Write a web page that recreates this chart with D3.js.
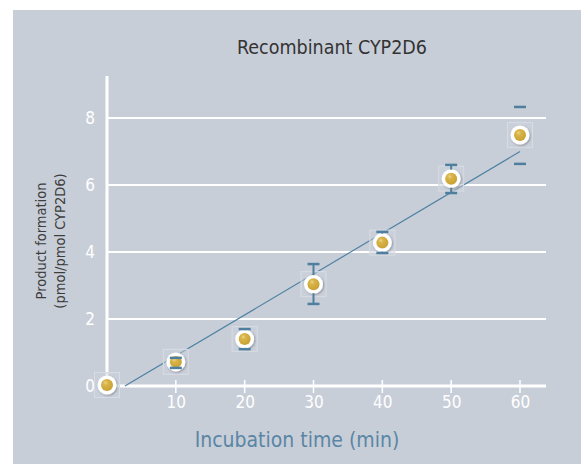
<!DOCTYPE html>
<html><head><meta charset="utf-8">
<script src="https://cdn.jsdelivr.net/npm/d3@7"></script>
<style>
html,body{margin:0;padding:0;background:#fff;}
svg{display:block;}
text{font-family:"DejaVu Sans Condensed","Liberation Sans Narrow","Roboto",sans-serif;}
</style></head>
<body>
<svg id="chart" width="581" height="464"></svg>
<script>
const title = "Recombinant CYP2D6";
const xLabel = "Incubation time (min)";
const yLabelLines = ["Product formation", "(pmol/pmol CYP2D6)"];
const times = [0, 10, 20, 30, 40, 50, 60];
const values = [0.03, 0.72, 1.40, 3.04, 4.28, 6.19, 7.49];
const errHigh = [null, 0.84, 1.70, 3.64, 4.60, 6.60, 8.33];
const errLow = [null, 0.54, 1.10, 2.45, 3.97, 5.76, 6.63];
const stemShown = [false, true, true, true, true, true, false];
const fitX = [2.6, 60];
const fitY = [0, 7.0];
const xTicks = [10, 20, 30, 40, 50, 60];
const yTicks = [0, 2, 4, 6, 8];

const svg = d3.select("#chart");
svg.append("rect").attr("x", 13).attr("y", 10).attr("width", 568).attr("height", 454).attr("fill", "#c8ced8");

const x = d3.scaleLinear().domain([0, 60]).range([107, 520]);
const y = d3.scaleLinear().domain([0, 8]).range([386, 118]);
const xEnd = 546;

const defs = svg.append("defs");
const grad = defs.append("radialGradient").attr("id", "gold").attr("cx", "0.38").attr("cy", "0.32").attr("r", "0.7");
grad.append("stop").attr("offset", "0").attr("stop-color", "#ead486");
grad.append("stop").attr("offset", "0.3").attr("stop-color", "#d8b448");
grad.append("stop").attr("offset", "1").attr("stop-color", "#c9a032");
const filt = defs.append("filter").attr("id", "sh").attr("x", "-50%").attr("y", "-50%").attr("width", "200%").attr("height", "200%");
filt.append("feDropShadow").attr("dx", 1).attr("dy", 1).attr("stdDeviation", 1.2).attr("flood-color", "#000").attr("flood-opacity", 0.3);

// title
svg.append("text").attr("x", 332).attr("y", 54).attr("text-anchor", "middle")
  .attr("font-size", 19.5).attr("fill", "#333").text(title);

// gridlines
svg.append("g").selectAll("line").data(yTicks.filter(d => d > 0)).join("line")
  .attr("x1", x(0)).attr("x2", xEnd).attr("y1", d => y(d)).attr("y2", d => y(d))
  .attr("stroke", "#fff").attr("stroke-width", 2);

// y axis
const yAxis = d3.axisLeft(y).tickValues(yTicks).tickSize(0).tickPadding(12);
const gy = svg.append("g").attr("transform", `translate(${x(0)},0)`).call(yAxis);
gy.select(".domain").remove();
gy.selectAll("text").attr("fill", "#fff").attr("font-size", 17).attr("font-family", "\"DejaVu Sans Condensed\",sans-serif");
svg.append("line").attr("x1", x(0)).attr("x2", x(0)).attr("y1", 76).attr("y2", y(0) + 1.5)
  .attr("stroke", "#fff").attr("stroke-width", 3);

// x axis
const xAxis = d3.axisBottom(x).tickValues(xTicks).tickSize(0).tickPadding(10);
const gx = svg.append("g").attr("transform", `translate(0,${y(0)})`).call(xAxis);
gx.select(".domain").remove();
gx.selectAll("text").attr("fill", "#fff").attr("font-size", 17).attr("font-family", "\"DejaVu Sans Condensed\",sans-serif");
svg.append("line").attr("x1", x(0) - 1.5).attr("x2", xEnd).attr("y1", y(0)).attr("y2", y(0))
  .attr("stroke", "#fff").attr("stroke-width", 3);
svg.append("g").selectAll("line").data(xTicks).join("line")
  .attr("x1", d => x(d)).attr("x2", d => x(d)).attr("y1", y(0) - 6).attr("y2", y(0) + 7)
  .attr("stroke", "#fff").attr("stroke-width", 1.5);

// axis labels
svg.append("text").attr("x", 297).attr("y", 447).attr("text-anchor", "middle")
  .attr("font-size", 21).attr("fill", "#5a86a5").text(xLabel);
const yl = svg.append("text").attr("transform", "translate(46,241) rotate(-90)").attr("text-anchor", "middle")
  .attr("font-size", 14.5).attr("fill", "#3d3d3d");
yLabelLines.forEach((t, i) => yl.append("tspan").attr("x", 0).attr("dy", i === 0 ? 0 : 19).text(t));

// fit line
svg.append("line").attr("x1", x(fitX[0])).attr("y1", y(fitY[0])).attr("x2", x(fitX[1])).attr("y2", y(fitY[1]))
  .attr("stroke", "#4f82a2").attr("stroke-width", 1.2);

const pts = times.map((t, i) => ({t, v: values[i], hi: errHigh[i], lo: errLow[i], stem: stemShown[i]}));

// faint squares
svg.append("g").selectAll("rect").data(pts).join("rect")
  .attr("x", d => x(d.t) - 12.5).attr("y", d => y(d.v) - 12.5).attr("width", 25).attr("height", 25)
  .attr("fill", "#ccd2db").attr("fill-opacity", 0.5).attr("stroke", "#d8dce4").attr("stroke-width", 1);

// markers
const mk = svg.append("g").selectAll("g").data(pts).join("g")
  .attr("transform", d => `translate(${x(d.t)},${y(d.v)})`);
mk.append("circle").attr("r", 9.5).attr("fill", "#fff").attr("filter", "url(#sh)");
mk.append("circle").attr("r", 6).attr("fill", "url(#gold)");

// error bars
const eb = svg.append("g").selectAll("g").data(pts.filter(d => d.hi !== null)).join("g");
eb.filter(d => d.stem).append("line")
  .attr("x1", d => x(d.t)).attr("x2", d => x(d.t)).attr("y1", d => y(d.hi)).attr("y2", d => y(d.v) - 9)
  .attr("stroke", "#4f7f9e").attr("stroke-width", 2).attr("display", d => y(d.hi) < y(d.v) - 9 ? null : "none");
eb.filter(d => d.stem).append("line")
  .attr("x1", d => x(d.t)).attr("x2", d => x(d.t)).attr("y1", d => y(d.v) + 9).attr("y2", d => y(d.lo))
  .attr("stroke", "#4f7f9e").attr("stroke-width", 2).attr("display", d => y(d.lo) > y(d.v) + 9 ? null : "none");
eb.append("line").attr("x1", d => x(d.t) - 6).attr("x2", d => x(d.t) + 6).attr("y1", d => y(d.hi)).attr("y2", d => y(d.hi))
  .attr("stroke", "#4f7f9e").attr("stroke-width", 2.5);
eb.append("line").attr("x1", d => x(d.t) - 6).attr("x2", d => x(d.t) + 6).attr("y1", d => y(d.lo)).attr("y2", d => y(d.lo))
  .attr("stroke", "#4f7f9e").attr("stroke-width", 2.5);
</script>
</body></html>
